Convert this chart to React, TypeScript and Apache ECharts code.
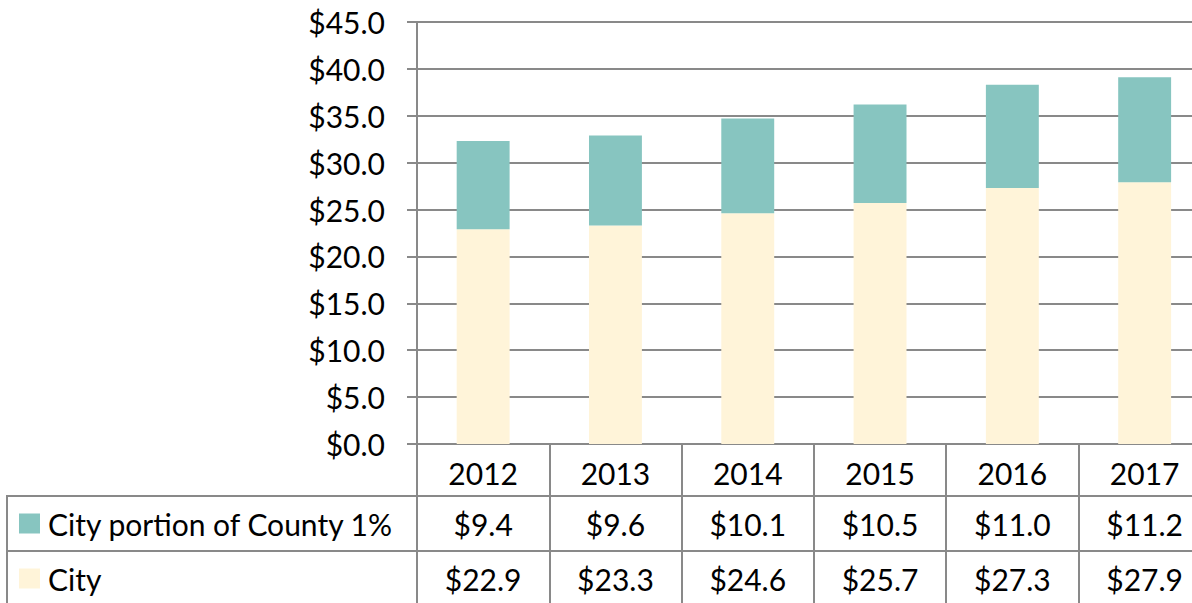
import React, { useEffect, useRef } from "react";
import * as echarts from "echarts";

const years = ["2012", "2013", "2014", "2015", "2016", "2017"];
const cityValues = [22.9, 23.3, 24.6, 25.7, 27.3, 27.9];
const countyValues = [9.4, 9.6, 10.1, 10.5, 11.0, 11.2];
const cityName = "City";
const countyName = "City portion of County 1%";
const yMin = 0;
const yMax = 45;
const yStep = 5;

const FONT = "Lato, 'Open Sans', sans-serif";
const FS = 30;
const GREY = "#898989";
const TEAL = "#87C5C0";
const CREAM = "#FFF4D9";

const W = 1192;
const H = 603;
const INNER_W = 1240;
const GRID_LEFT = 417;
const GRID_TOP = 22;
const GRID_H = 422;
const COL_W = 132.3;
const ROW1_TOP = 496;
const ROW2_TOP = 551;
const ROW_H = 55;
const TABLE_LEFT = 7;

const money = (v: number) => "$" + v.toFixed(1);

export default function App() {
  const ref = useRef<HTMLDivElement>(null);
  useEffect(() => {
    if (!ref.current) return;
    const chart = echarts.init(ref.current, undefined, { renderer: "svg" });
    const axisBottom = GRID_TOP + GRID_H;
    const labelStyle = { fontFamily: FONT, fontSize: FS, color: "#000" };
    const rowAxis = (values: number[], margin: number) => ({
      type: "category",
      data: years,
      position: "bottom",
      gridIndex: 0,
      axisLine: { show: false },
      axisTick: { show: false },
      splitLine: { show: false },
      axisLabel: {
        ...labelStyle,
        margin,
        verticalAlign: "middle",
        interval: 0,
        formatter: (_v: string, i: number) => money(values[i]),
      },
    });
    const rowLegend = (name: string, rowTop: number) => ({
      orient: "vertical",
      left: 14,
      top: rowTop + ROW_H / 2 - 17 - 5,
      itemWidth: 21,
      itemHeight: 20,
      icon: "rect",
      selectedMode: false,
      data: [name],
      textStyle: { ...labelStyle, lineHeight: 34, padding: [0, 0, 0, 3] },
    });
    chart.setOption({
      animation: false,
      grid: {
        left: GRID_LEFT,
        top: GRID_TOP,
        width: COL_W * years.length,
        height: GRID_H,
        containLabel: false,
      },
      legend: [rowLegend(countyName, ROW1_TOP), rowLegend(cityName, ROW2_TOP)],
      xAxis: [
        {
          type: "category",
          data: years,
          position: "bottom",
          axisLine: { show: true, lineStyle: { color: GREY, width: 2 } },
          axisTick: {
            show: true,
            length: H - axisBottom + 5,
            interval: 0,
            lineStyle: { color: GREY, width: 2 },
          },
          splitLine: { show: false },
          axisLabel: {
            ...labelStyle,
            margin: 29,
            verticalAlign: "middle",
            interval: 0,
          },
        },
        rowAxis(countyValues, 80),
        rowAxis(cityValues, 135),
      ],
      yAxis: {
        type: "value",
        min: yMin,
        max: yMax,
        interval: yStep,
        axisLine: { show: true, lineStyle: { color: GREY, width: 2 } },
        axisTick: { show: true, length: 10, lineStyle: { color: GREY, width: 2 } },
        splitLine: { show: true, lineStyle: { color: GREY, width: 2 } },
        axisLabel: { ...labelStyle, margin: 32, formatter: (v: number) => money(v) },
      },
      series: [
        {
          name: cityName,
          type: "bar",
          stack: "total",
          data: cityValues,
          barWidth: "40%",
          itemStyle: { color: CREAM },
        },
        {
          name: countyName,
          type: "bar",
          stack: "total",
          data: countyValues,
          barWidth: "40%",
          itemStyle: { color: TEAL },
        },
      ],
      graphic: [
        {
          type: "line",
          shape: { x1: TABLE_LEFT, y1: ROW1_TOP, x2: INNER_W, y2: ROW1_TOP },
          style: { stroke: GREY, lineWidth: 2 },
        },
        {
          type: "line",
          shape: { x1: TABLE_LEFT, y1: ROW2_TOP, x2: INNER_W, y2: ROW2_TOP },
          style: { stroke: GREY, lineWidth: 2 },
        },
        {
          type: "line",
          shape: { x1: TABLE_LEFT, y1: ROW1_TOP - 1, x2: TABLE_LEFT, y2: H },
          style: { stroke: GREY, lineWidth: 2 },
        },
      ],
    });
    return () => chart.dispose();
  }, []);
  return (
    <div
      style={{
        position: "absolute",
        left: 0,
        top: 0,
        width: W,
        height: H,
        overflow: "hidden",
        background: "#fff",
      }}
    >
      <div ref={ref} style={{ width: INNER_W, height: H }} />
    </div>
  );
}
